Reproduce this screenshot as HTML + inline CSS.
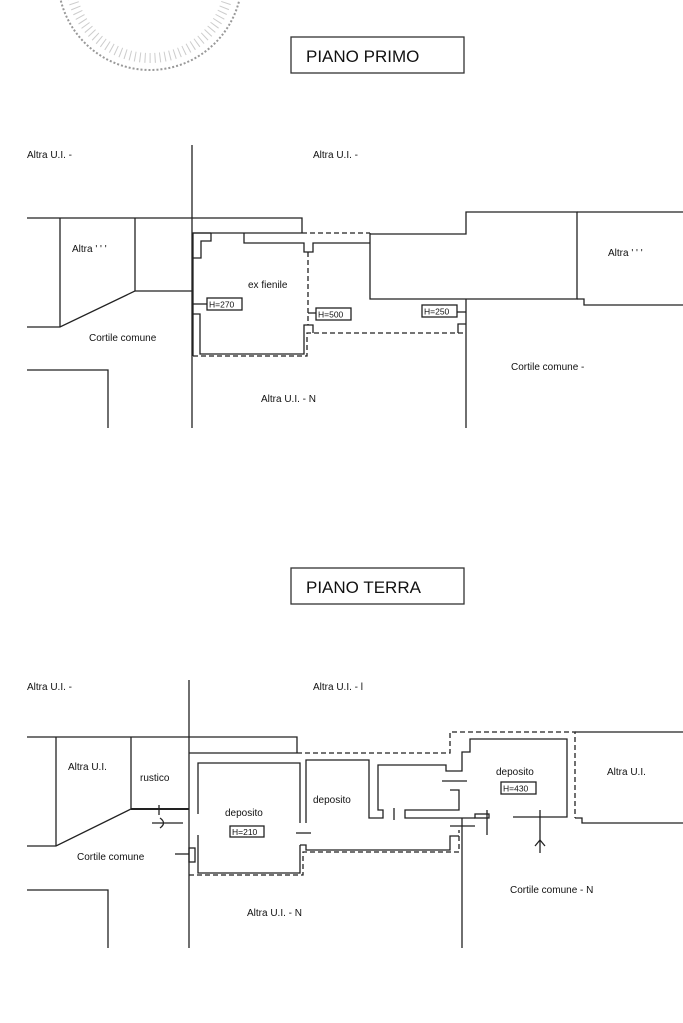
<!DOCTYPE html>
<html><head><meta charset="utf-8"><style>
html,body{margin:0;padding:0;background:#fff;}
svg{display:block;}
text{font-family:"Liberation Sans",sans-serif;fill:#111;}
</style></head><body>
<svg width="683" height="1023" viewBox="0 0 683 1023" xmlns="http://www.w3.org/2000/svg">
<g fill="none" stroke="#222" stroke-width="1.3">
<!-- stamp -->
<circle cx="150" cy="-22" r="92" stroke="#999" stroke-width="2" stroke-dasharray="2 2"/>
<circle cx="150" cy="-22" r="80" stroke="#ccc" stroke-width="10" stroke-dasharray="1 4"/>

<!-- TOP PLAN -->
<rect x="291" y="37" width="173" height="36" stroke="#333"/>
<line x1="192" y1="145" x2="192" y2="428"/>
<polyline points="27,218 302,218 302,233"/>
<line x1="60" y1="218" x2="60" y2="327"/>
<polyline points="135,218 135,291 60,327 27,327"/>
<line x1="135" y1="291" x2="192" y2="291"/>
<polyline points="27,370 108,370 108,428"/>
<!-- room -->
<polyline points="211,233 193,233 193,356"/>
<line x1="193" y1="233" x2="302" y2="233"/>
<polyline points="211,233 211,241 201,241 201,258 193,258"/>
<polyline points="193,314 200,314 200,354 304,354 304,325 313,325 313,333"/>
<polyline points="244,233 244,243 304,243 304,252 313,252 313,243 370,243"/>
<polyline points="370,233 370,299 577,299 577,212 466,212 466,234 370,234"/>
<polyline points="577,212 683,212"/>
<polyline points="577,299 584,299 584,305 683,305"/>
<line x1="466" y1="299" x2="466" y2="428"/>
<polyline points="458,333 458,324 466,324"/>
<g stroke-dasharray="5 3">
<line x1="302" y1="233" x2="370" y2="233"/>
<line x1="308" y1="252" x2="308" y2="325"/>
<polyline points="193,356 307,356 307,333 466,333"/>
</g>
<!-- labels boxes -->
<rect x="207" y="298" width="35" height="12"/>
<line x1="193" y1="304" x2="207" y2="304"/>
<rect x="316" y="308" width="35" height="12"/>
<line x1="308" y1="313" x2="316" y2="313"/>
<rect x="422" y="305" width="35" height="12"/>
<line x1="457" y1="312" x2="466" y2="312"/>

<!-- BOTTOM PLAN -->
<rect x="291" y="568" width="173" height="36" stroke="#333"/>
<line x1="189" y1="680" x2="189" y2="948"/>
<polyline points="27,737 297,737 297,753"/>
<line x1="56" y1="737" x2="56" y2="846"/>
<polyline points="131,737 131,809 56,846 27,846"/>
<line x1="131" y1="809" x2="189" y2="809" stroke-width="2"/>
<polyline points="27,890 108,890 108,948"/>
<line x1="189" y1="753" x2="297" y2="753"/>
<polyline points="575,732 683,732"/>
<polyline points="575,818 582,818 582,823 683,823"/>
<line x1="462" y1="818" x2="462" y2="948"/>
<!-- room left -->
<polyline points="198,814 198,763 300,763 300,823"/>
<polyline points="198,835 198,873 300,873 300,845"/>
<polyline points="300,845 306,845 306,850 450,850 450,836 459,836"/>
<polyline points="306,823 306,760 369,760 369,818 383,818 383,810 378,810 378,765 446,765 446,771 462,771 462,752 470,752 470,739 567,739 567,817 513,817"/>
<polyline points="450,790 459,790 459,810 405,810 405,818 475,818"/>
<line x1="442" y1="781" x2="467" y2="781"/>
<rect x="475" y="814" width="14" height="4"/>
<line x1="296" y1="833" x2="311" y2="833"/>
<line x1="394" y1="808" x2="394" y2="820"/>
<line x1="487" y1="810" x2="487" y2="835"/>
<line x1="450" y1="826" x2="475" y2="826"/>
<rect x="189" y="848" width="6" height="14"/>
<line x1="175" y1="854" x2="189" y2="854"/>
<line x1="159" y1="805" x2="159" y2="815"/>
<line x1="152" y1="823" x2="183" y2="823"/>
<path d="M160,818 Q167,823 160,828"/>
<line x1="540" y1="810" x2="540" y2="853"/>
<path d="M535,846 L540,840 L545,846"/>
<g stroke-dasharray="5 3">
<polyline points="297,753 450,753 450,732 575,732 575,818"/>
<polyline points="189,875 303,875 303,852 459,852 459,830"/>
</g>
<rect x="230" y="826" width="34" height="11"/>
<rect x="501" y="782" width="35" height="12"/>
</g>

<text x="306" y="62" font-size="17">PIANO PRIMO</text>
<text x="306" y="593" font-size="17">PIANO TERRA</text>
<g font-size="10">
<text x="27" y="158">Altra U.I. -</text>
<text x="313" y="158">Altra U.I. -</text>
<text x="72" y="252">Altra ' ' '</text>
<text x="608" y="256">Altra ' ' '</text>
<text x="248" y="288">ex fienile</text>
<text x="89" y="341">Cortile comune</text>
<text x="511" y="370">Cortile comune -</text>
<text x="261" y="402">Altra U.I. - N</text>
<text x="27" y="690">Altra U.I. -</text>
<text x="313" y="690">Altra U.I. - l</text>
<text x="68" y="770">Altra U.I.</text>
<text x="140" y="781">rustico</text>
<text x="225" y="816">deposito</text>
<text x="313" y="803">deposito</text>
<text x="496" y="775">deposito</text>
<text x="607" y="775">Altra U.I.</text>
<text x="77" y="860">Cortile comune</text>
<text x="510" y="893">Cortile comune - N</text>
<text x="247" y="916">Altra U.I. - N</text>
</g>
<g font-size="8.5">
<text x="209" y="307.5">H=270</text>
<text x="318" y="317.5">H=500</text>
<text x="424" y="314.5">H=250</text>
<text x="232" y="835">H=210</text>
<text x="503" y="791.5">H=430</text>
</g>
</svg>
</body></html>
